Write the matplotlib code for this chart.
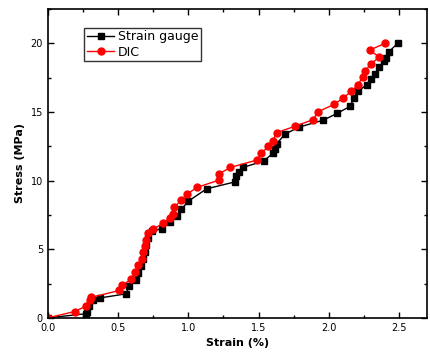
import matplotlib
matplotlib.use('Agg')
import matplotlib.pyplot as plt
from matplotlib.ticker import MultipleLocator

# strain gauge data (strain %, stress MPa)
sg_strain = [0.0, 0.27, 0.28, 0.29, 0.32, 0.37, 0.555, 0.58, 0.63, 0.645, 0.66, 0.675,
             0.69, 0.70, 0.71, 0.74, 0.81, 0.87, 0.92, 0.95, 1.0, 1.13, 1.33, 1.34, 1.36,
             1.39, 1.54, 1.60, 1.62, 1.63, 1.69, 1.79, 1.96, 2.06, 2.15, 2.18, 2.21, 2.27,
             2.30, 2.33, 2.36, 2.39, 2.41, 2.43, 2.49]
sg_stress = [0.0, 0.3, 0.46, 0.87, 1.3, 1.45, 1.75, 2.3, 2.76, 3.3, 3.8, 4.3,
             4.8, 5.3, 5.8, 6.3, 6.5, 7.0, 7.4, 7.9, 8.5, 9.4, 9.9, 10.3, 10.6,
             10.96, 11.44, 11.98, 12.3, 12.7, 13.4, 13.9, 14.4, 14.9, 15.4, 16.0, 16.5, 17.0,
             17.4, 17.8, 18.3, 18.7, 18.96, 19.4, 20.0]

# DIC data
dic_strain = [0.0, 0.19, 0.275, 0.30, 0.31, 0.51, 0.53, 0.595, 0.62, 0.64, 0.67, 0.68,
              0.69, 0.70, 0.71, 0.75, 0.82, 0.87, 0.89, 0.90, 0.95, 0.99, 1.06, 1.22, 1.22,
              1.30, 1.49, 1.52, 1.57, 1.60, 1.63, 1.76, 1.89, 1.92, 2.04, 2.10, 2.16, 2.21,
              2.24, 2.26, 2.30, 2.36, 2.29, 2.40]
dic_stress = [0.0, 0.46, 0.87, 1.3, 1.5, 2.0, 2.4, 2.8, 3.37, 3.85, 4.3, 4.8,
              5.2, 5.67, 6.16, 6.45, 6.9, 7.3, 7.6, 8.05, 8.6, 9.0, 9.5, 10.04, 10.5,
              10.96, 11.5, 12.0, 12.5, 12.9, 13.5, 13.96, 14.45, 15.0, 15.56, 16.0, 16.5, 17.0,
              17.55, 18.0, 18.5, 19.0, 19.5, 20.0]

fig = plt.figure(figsize=(4.31, 3.6), dpi=100)
ax = fig.add_axes([0.111, 0.117, 0.88, 0.858])

ax.plot(sg_strain, sg_stress, color='black', marker='s', markersize=4.5, linewidth=1.0,
        label='Strain gauge')
ax.plot(dic_strain, dic_stress, color='red', marker='o', markersize=5, linewidth=1.0,
        label='DIC')

ax.set_xlim(0, 2.7)
ax.set_ylim(0, 22.5)
ax.xaxis.set_major_locator(MultipleLocator(0.5))
ax.xaxis.set_minor_locator(MultipleLocator(0.25))
ax.yaxis.set_major_locator(MultipleLocator(5))
ax.yaxis.set_minor_locator(MultipleLocator(2.5))
ax.tick_params(which='both', direction='in', top=True, right=True, labelsize=7)
ax.tick_params(which='major', length=4, width=1)
ax.tick_params(which='minor', length=2.5, width=1)
for s in ax.spines.values():
    s.set_linewidth(1.2)

ax.set_xlabel('Strain (%)', fontsize=8, fontweight='bold')
ax.set_ylabel('Stress (MPa)', fontsize=8, fontweight='bold')

ax.legend(loc='upper left', bbox_to_anchor=(0.08, 0.96), fontsize=9, frameon=True,
          fancybox=False, edgecolor='black', handlelength=2.2, borderpad=0.2,
          labelspacing=0.2, handletextpad=0.3)

fig.savefig('out.png', dpi=100)
